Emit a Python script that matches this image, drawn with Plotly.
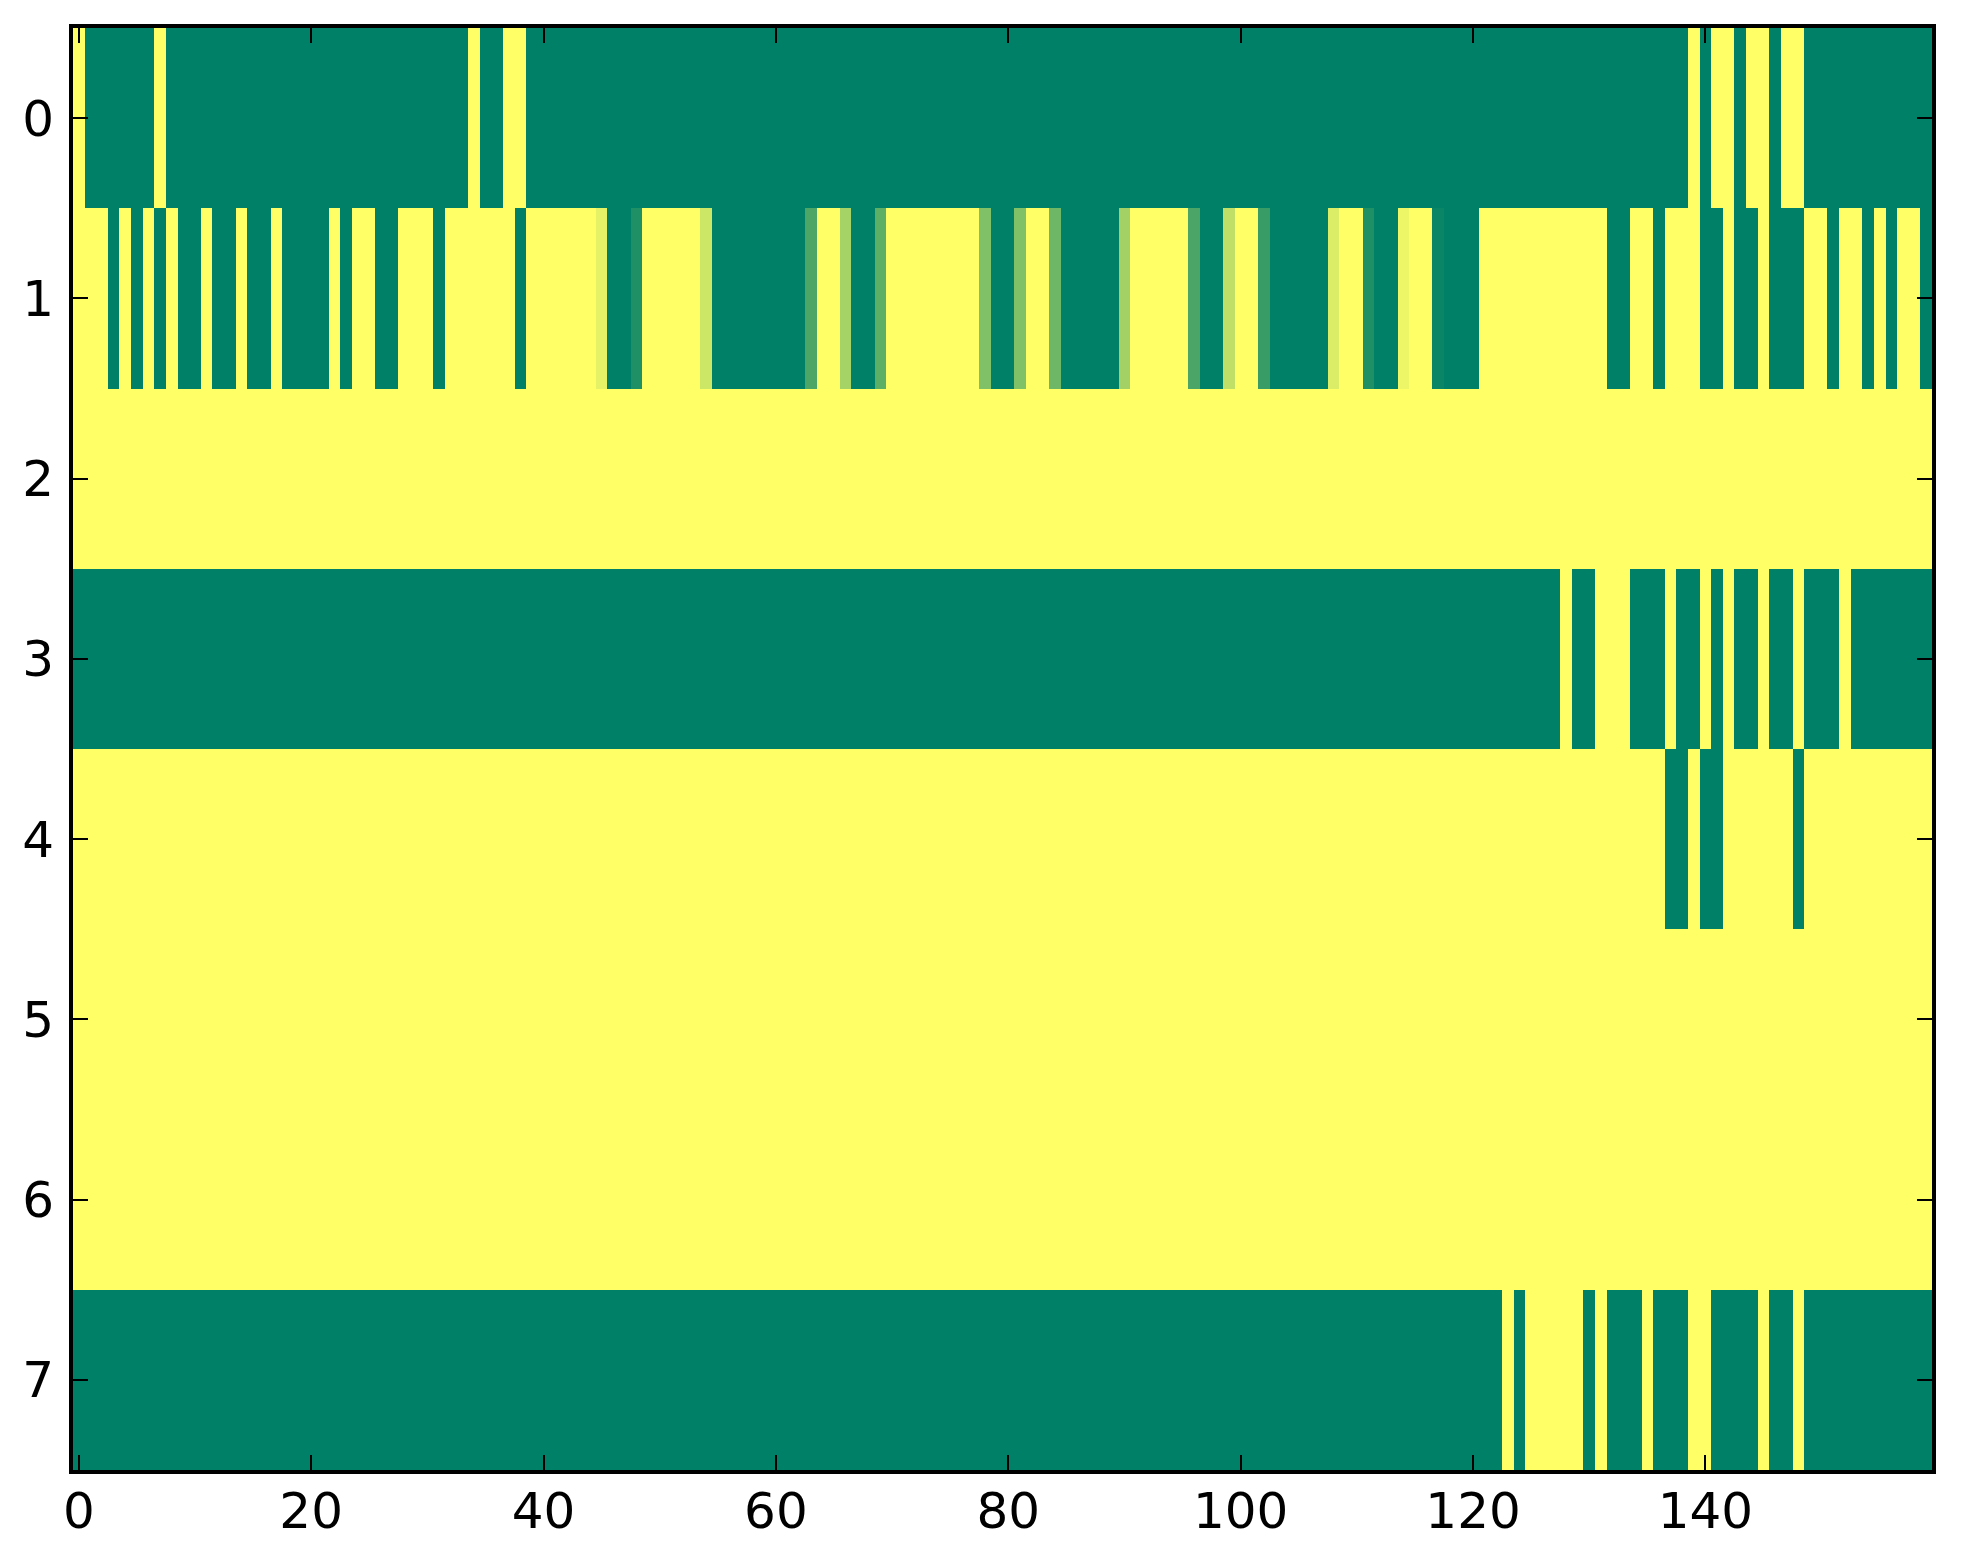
# %%
import plotly.graph_objects as go


# %% values: 8 rows x 160 columns, 1 = yellow end, 0 = green end
row_0 = (
    "1000000100 0000000000 0000000000 0000100110 0000000000 0000000000 "
    "0000000000 0000000000 0000000000 0000000000 0000000000 0000000000 "
    "0000000000 0000000001 0110110110 0000000000"
)
row_1 = [
    1, 1, 1, 0, 1, 0, 1, 0, 1, 0,
    0, 1, 0, 0, 1, 0, 0, 1, 0, 0,
    0, 0, 1, 0, 1, 1, 0, 0, 1, 1,
    1, 0, 1, 1, 1, 1, 1, 1, 0, 1,
    1, 1, 1, 1, 1, 0.9, 0, 0, 0.12, 1,
    1, 1, 1, 1, 0.8, 0, 0, 0, 0, 0,
    0, 0, 0, 0.3, 1, 1, 0.65, 0, 0, 0.37,
    1, 1, 1, 1, 1, 1, 1, 1, 0.5, 0,
    0, 0.5, 1, 1, 0.43, 0, 0, 0, 0, 0,
    0.64, 1, 1, 1, 1, 1, 0.29, 0, 0, 0.75,
    1, 1, 0.22, 0, 0, 0, 0, 0, 0.86, 1,
    1, 0.12, 0, 0, 0.93, 1, 1, 0.04, 0, 0,
    0, 1, 1, 1, 1, 1, 1, 1, 1, 1,
    1, 1, 0, 0, 1, 1, 0, 1, 1, 1,
    0, 0, 1, 0, 0, 1, 0, 0, 0, 1,
    1, 0, 1, 1, 0, 1, 0, 1, 1, 0,
]
row_2 = (
    "1111111111 1111111111 1111111111 1111111111 1111111111 1111111111 "
    "1111111111 1111111111 1111111111 1111111111 1111111111 1111111111 "
    "1111111111 1111111111 1111111111 1111111111"
)
row_3 = (
    "0000000000 0000000000 0000000000 0000000000 0000000000 0000000000 "
    "0000000000 0000000000 0000000000 0000000000 0000000000 0000000000 "
    "0000000010 0111000100 1010010010 0010000000"
)
row_4 = (
    "1111111111 1111111111 1111111111 1111111111 1111111111 1111111111 "
    "1111111111 1111111111 1111111111 1111111111 1111111111 1111111111 "
    "1111111111 1111111001 0011111101 1111111111"
)
row_5 = row_2
row_6 = row_2
row_7 = (
    "0000000000 0000000000 0000000000 0000000000 0000000000 0000000000 "
    "0000000000 0000000000 0000000000 0000000000 0000000000 0000000000 "
    "0001011111 0100010001 1000010010 0000000000"
)

columns = list(range(160))
row_labels = list(range(8))
x_ticks = [0, 20, 40, 60, 80, 100, 120, 140]


def parse(row):
    return [int(ch) for ch in row if ch in "01"]


z = [parse(row_0), row_1, parse(row_2), parse(row_3),
     parse(row_4), parse(row_5), parse(row_6), parse(row_7)]

# matplotlib "summer" colormap
summer = [[0, "rgb(0,128,102)"], [1, "rgb(255,255,102)"]]


# %%
fig = go.Figure(
    go.Heatmap(
        z=z,
        x=columns,
        y=row_labels,
        colorscale=summer,
        zmin=0,
        zmax=1,
        showscale=False,
        hoverongaps=False,
    )
)

axis_style = dict(
    showline=True,
    linewidth=4,
    linecolor="black",
    mirror="allticks",
    ticks="inside",
    ticklen=15,
    tickwidth=1.5,
    tickcolor="black",
    showgrid=False,
    zeroline=False,
    tickfont=dict(family="DejaVu Sans", size=50, color="black"),
)

fig.update_xaxes(
    **axis_style,
    range=[-0.5, 159.5],
    tickvals=x_ticks,
    ticklabelstandoff=-6,
)
fig.update_yaxes(
    **axis_style,
    range=[7.5, -0.5],
    tickvals=row_labels,
    ticklabelstandoff=5,
)
# page body adds 8px, so the margins are shifted by that much
fig.update_layout(
    width=1963,
    height=1564,
    margin=dict(l=65, r=39, t=20, b=102),
    paper_bgcolor="white",
    plot_bgcolor="white",
)

fig.write_html("out.html")
